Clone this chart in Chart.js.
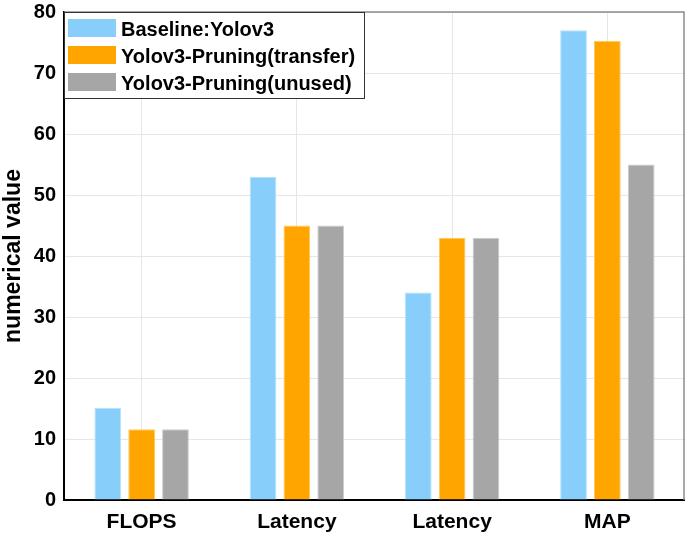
<!DOCTYPE html>
<html>
<head>
<meta charset="utf-8">
<script src="https://cdn.jsdelivr.net/npm/chart.js@4"></script>
<style>
  html, body { margin: 0; padding: 0; background: #fff; overflow: hidden; }
  #wrap { width: 685px; height: 537px; }
</style>
</head>
<body>
<div id="wrap"><canvas id="grafico" width="685" height="537"></canvas></div>
<script>
const categorias = ["FLOPS", "Latency", "Latency", "MAP"];
const baseline = [15.1, 53, 34, 77];
const pruningTransfer = [11.6, 45, 43, 75.3];
const pruningUnused = [11.6, 45, 43, 55];
const ticksY = [0, 10, 20, 30, 40, 50, 60, 70, 80];

const fonte = "'Liberation Sans', Arial, sans-serif";

// legenda desenhada dentro da área do gráfico
const legendaInterna = {
  id: 'legendaInterna',
  afterDraw(chart) {
    const ctx = chart.ctx;
    const a = chart.chartArea;
    const x0 = a.left, y0 = a.top, w = 300, h = 86;
    ctx.save();
    ctx.fillStyle = '#fff';
    ctx.fillRect(x0, y0, w, h);
    ctx.strokeStyle = '#333';
    ctx.lineWidth = 1;
    ctx.strokeRect(x0 + 0.5, y0 + 0.5, w, h);
    ctx.font = "bold 20px " + fonte;
    ctx.textBaseline = 'middle';
    chart.data.datasets.forEach((ds, i) => {
      const cy = y0 + 16 + i * 27;
      ctx.fillStyle = ds.backgroundColor;
      ctx.fillRect(x0 + 4, cy - 9, 48, 18);
      ctx.fillStyle = '#000';
      ctx.fillText(ds.label, x0 + 57, cy + 2);
    });
    ctx.restore();
  }
};

// borda superior e direita em cinza
const bordaCaixa = {
  id: 'bordaCaixa',
  beforeDatasetsDraw(chart) {
    const ctx = chart.ctx;
    const a = chart.chartArea;
    ctx.save();
    ctx.strokeStyle = '#8c8c8c';
    ctx.lineWidth = 1.5;
    ctx.beginPath();
    ctx.moveTo(a.left, a.top);
    ctx.lineTo(a.right - 1, a.top);
    ctx.lineTo(a.right - 1, a.bottom);
    ctx.stroke();
    ctx.restore();
  }
};

const ctx = document.getElementById('grafico').getContext('2d');
new Chart(ctx, {
  type: 'bar',
  data: {
    labels: categorias,
    datasets: [
      { label: 'Baseline:Yolov3', data: baseline, backgroundColor: '#87cefa', borderColor: '#b5e1fc', borderWidth: 1 },
      { label: 'Yolov3-Pruning(transfer)', data: pruningTransfer, backgroundColor: '#ffa500', borderColor: '#ffc860', borderWidth: 1 },
      { label: 'Yolov3-Pruning(unused)', data: pruningUnused, backgroundColor: '#a6a6a6', borderColor: '#cccccc', borderWidth: 1 }
    ]
  },
  options: {
    responsive: false,
    animation: false,
    categoryPercentage: 0.654,
    barPercentage: 0.79,
    layout: { padding: 0 },
    plugins: {
      legend: { display: false },
      tooltip: { enabled: false }
    },
    scales: {
      x: {
        grid: { offset: false, color: '#e6e6e6', drawTicks: false },
        border: { color: '#000', width: 2 },
        ticks: { color: '#000', font: { family: fonte, size: 21, weight: 'bold' }, padding: 10, maxRotation: 0 },
        afterFit(s) { s.height = 37; s.paddingLeft = 0; s.paddingRight = 0; }
      },
      y: {
        min: 0,
        max: 80,
        afterBuildTicks(s) { s.ticks = ticksY.map(v => ({ value: v })); },
        grid: { color: '#e6e6e6', drawTicks: false },
        border: { color: '#000', width: 2 },
        ticks: { color: '#000', font: { family: fonte, size: 20, weight: 'bold' }, padding: 8 },
        title: { display: true, text: 'numerical value', color: '#000', font: { family: fonte, size: 23, weight: 'bold' }, padding: { top: 0, bottom: 2 } },
        afterFit(s) { s.width = 64; s.paddingTop = 12; s.paddingBottom = 0; }
      }
    }
  },
  plugins: [bordaCaixa, legendaInterna]
});
</script>
</body>
</html>
